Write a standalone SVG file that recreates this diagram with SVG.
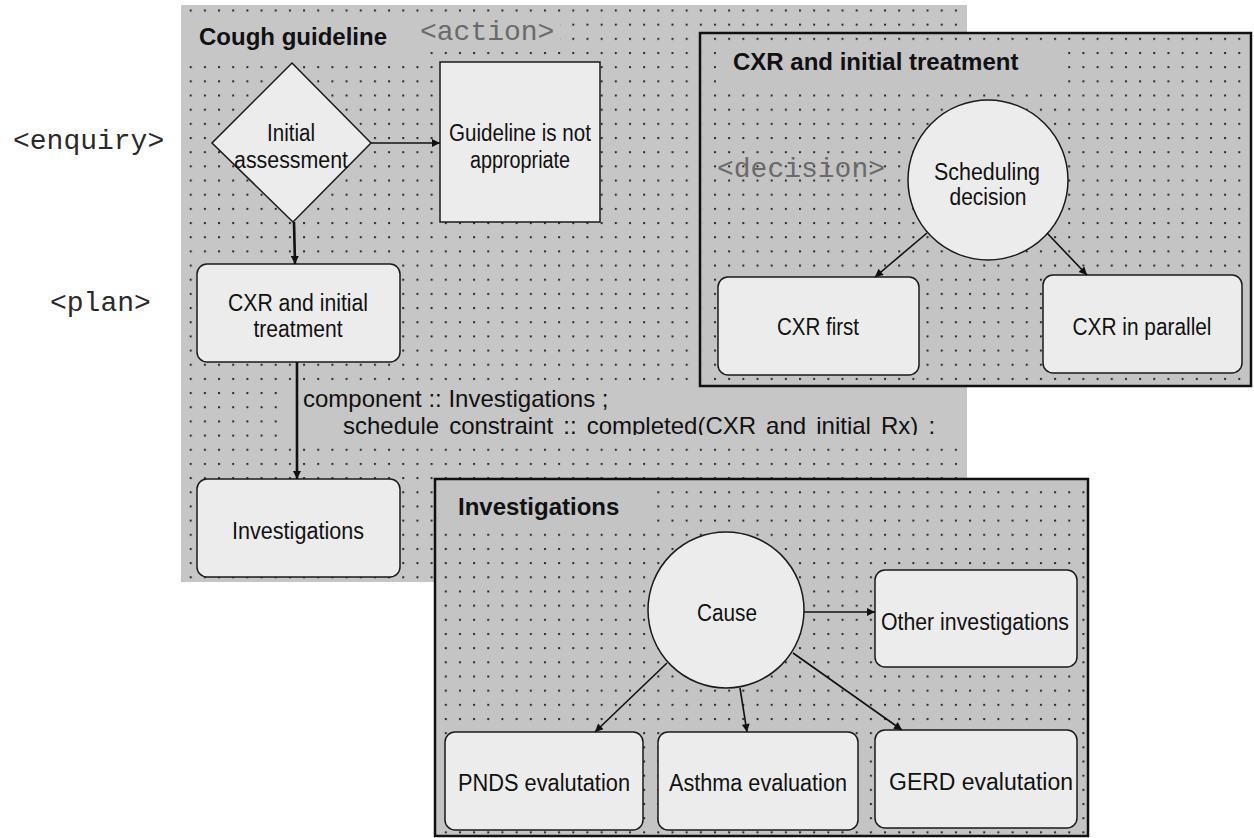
<svg xmlns="http://www.w3.org/2000/svg" width="1254" height="838" viewBox="0 0 1254 838">
<defs>
<pattern id="dots" x="5.5" y="9.5" width="14.17" height="14.17" patternUnits="userSpaceOnUse">
<rect width="2" height="2" fill="#2a2a2a"/>
</pattern>
<marker id="ah" viewBox="0 0 10 10" refX="10" refY="5" markerWidth="10" markerHeight="8" markerUnits="userSpaceOnUse" orient="auto">
<path d="M0,0 L10,5 L0,10 z" fill="#111"/>
</marker>
<clipPath id="labelclip"><rect x="290" y="380" width="680" height="55"/></clipPath>
</defs>
<style>
.bg{fill:#c6c6c6}
.dots{fill:url(#dots)}
.panel{fill:#c4c4c4;stroke:#111;stroke-width:2.5}
.box{fill:#ececec;stroke:#1a1a1a;stroke-width:1.5}
.title{font-family:"Liberation Sans",Arial,sans-serif;font-weight:bold;font-size:24px;fill:#111}
.node{font-family:"Liberation Sans",Arial,sans-serif;font-size:23px;fill:#111;text-anchor:middle}
.lbl{font-family:"Liberation Sans",Arial,sans-serif;font-size:24px;fill:#111}
.tag{font-family:"Liberation Mono","Courier New",monospace;font-size:28px;fill:#2a2a2a}
.tagin{font-family:"Liberation Mono","Courier New",monospace;font-size:28px;fill:#6a6a6a}
.conn{stroke:#111;stroke-width:1.6;fill:none;marker-end:url(#ah)}
.thick{stroke-width:2.6}
</style>
<rect width="1254" height="838" fill="#ffffff"/>

<!-- side labels -->
<text class="tag" x="13" y="149">&lt;enquiry&gt;</text>
<text class="tag" x="50" y="311">&lt;plan&gt;</text>

<!-- main panel: Cough guideline -->
<g id="panel-cough">
<rect class="bg" x="181" y="5" width="786" height="577"/>
<rect class="dots" x="181" y="5" width="786" height="577"/>
<rect class="bg" x="182" y="16" width="378" height="30"/>
<rect class="bg" x="182" y="45" width="245" height="13"/>
<rect class="bg" x="288" y="385" width="678" height="54"/>
<text class="title" x="199" y="45">Cough guideline</text>
<text class="tagin" x="420" y="40">&lt;action&gt;</text>
</g>

<g id="node-initial-assessment">
<polygon class="box" points="292,63 371,143 293,222 212,143"/>
<text class="node" x="291" y="141" textLength="48" lengthAdjust="spacingAndGlyphs">Initial</text>
<text class="node" x="291" y="168" textLength="114" lengthAdjust="spacingAndGlyphs">assessment</text>
</g>

<g id="node-not-appropriate">
<rect class="box" x="440" y="62" width="160" height="160"/>
<text class="node" x="520" y="141" textLength="142" lengthAdjust="spacingAndGlyphs">Guideline is not</text>
<text class="node" x="520" y="168" textLength="100" lengthAdjust="spacingAndGlyphs">appropriate</text>
</g>

<g id="node-cxr-initial">
<rect class="box" x="197" y="264" width="203" height="98" rx="10"/>
<text class="node" x="298" y="311" textLength="140" lengthAdjust="spacingAndGlyphs">CXR and initial</text>
<text class="node" x="298" y="337" textLength="89" lengthAdjust="spacingAndGlyphs">treatment</text>
</g>

<g id="node-investigations">
<rect class="box" x="197" y="479" width="203" height="98" rx="10"/>
<text class="node" x="298" y="539" textLength="132" lengthAdjust="spacingAndGlyphs">Investigations</text>
</g>

<!-- CXR and initial treatment panel -->
<g id="panel-cxr">
<rect class="panel" x="700" y="33" width="551" height="353"/>
<rect class="dots" x="702" y="35" width="548" height="349"/>
<rect fill="#c4c4c4" x="716" y="44" width="346" height="44"/>
<text class="title" x="733" y="70">CXR and initial treatment</text>
<text class="tagin" x="717" y="177">&lt;decision&gt;</text>
</g>

<g id="node-scheduling-decision">
<circle class="box" cx="988" cy="180" r="80"/>
<text class="node" x="987" y="180" textLength="106" lengthAdjust="spacingAndGlyphs">Scheduling</text>
<text class="node" x="988" y="205" textLength="77" lengthAdjust="spacingAndGlyphs">decision</text>
</g>

<g id="node-cxr-first">
<rect class="box" x="718" y="277" width="201" height="98" rx="10"/>
<text class="node" x="818" y="335" textLength="82" lengthAdjust="spacingAndGlyphs">CXR first</text>
</g>

<g id="node-cxr-parallel">
<rect class="box" x="1043" y="275" width="199" height="98" rx="10"/>
<text class="node" x="1142" y="335" textLength="139" lengthAdjust="spacingAndGlyphs">CXR in parallel</text>
</g>

<!-- Investigations panel -->
<g id="panel-investigations">
<rect class="panel" x="435" y="479" width="653" height="357"/>
<rect class="dots" x="437" y="481" width="650" height="354"/>
<rect fill="#c4c4c4" x="440" y="486" width="212" height="42"/>
<text class="title" x="458" y="515">Investigations</text>
</g>

<g id="node-cause">
<circle class="box" cx="726" cy="610" r="78"/>
<text class="node" x="727" y="621" textLength="60" lengthAdjust="spacingAndGlyphs">Cause</text>
</g>

<g id="node-other">
<rect class="box" x="875" y="570" width="202" height="97" rx="10"/>
<text class="node" x="975" y="630" textLength="188" lengthAdjust="spacingAndGlyphs">Other investigations</text>
</g>

<g id="node-pnds">
<rect class="box" x="445" y="732" width="198" height="98" rx="10"/>
<text class="node" x="544" y="791" textLength="172" lengthAdjust="spacingAndGlyphs">PNDS evalutation</text>
</g>

<g id="node-asthma">
<rect class="box" x="658" y="732" width="200" height="98" rx="10"/>
<text class="node" x="758" y="791" textLength="178" lengthAdjust="spacingAndGlyphs">Asthma evaluation</text>
</g>

<g id="node-gerd">
<rect class="box" x="875" y="730" width="202" height="98" rx="10"/>
<text class="node" x="981" y="790" textLength="184" lengthAdjust="spacingAndGlyphs">GERD evalutation</text>
</g>

<!-- connectors -->
<g id="connectors">
<path class="conn" d="M371,143 L440,143"/>
<path class="conn thick" d="M294,222 L295,264"/>
<path class="conn thick" d="M297,362 L297,479"/>
<path class="conn" d="M927,233 L875,277"/>
<path class="conn" d="M1047,233 L1087,275"/>
<path class="conn" d="M804,612 L875,612"/>
<path class="conn" d="M667,663 L595,732"/>
<path class="conn" d="M740,688 L747,732"/>
<path class="conn" d="M793,653 L902,730"/>
<g clip-path="url(#labelclip)">
<text class="lbl" x="303" y="407">component :: Investigations ;</text>
<text class="lbl" x="343" y="434" word-spacing="3.4">schedule constraint :: completed(CXR and initial Rx) :</text>
</g>
</g>
</svg>
